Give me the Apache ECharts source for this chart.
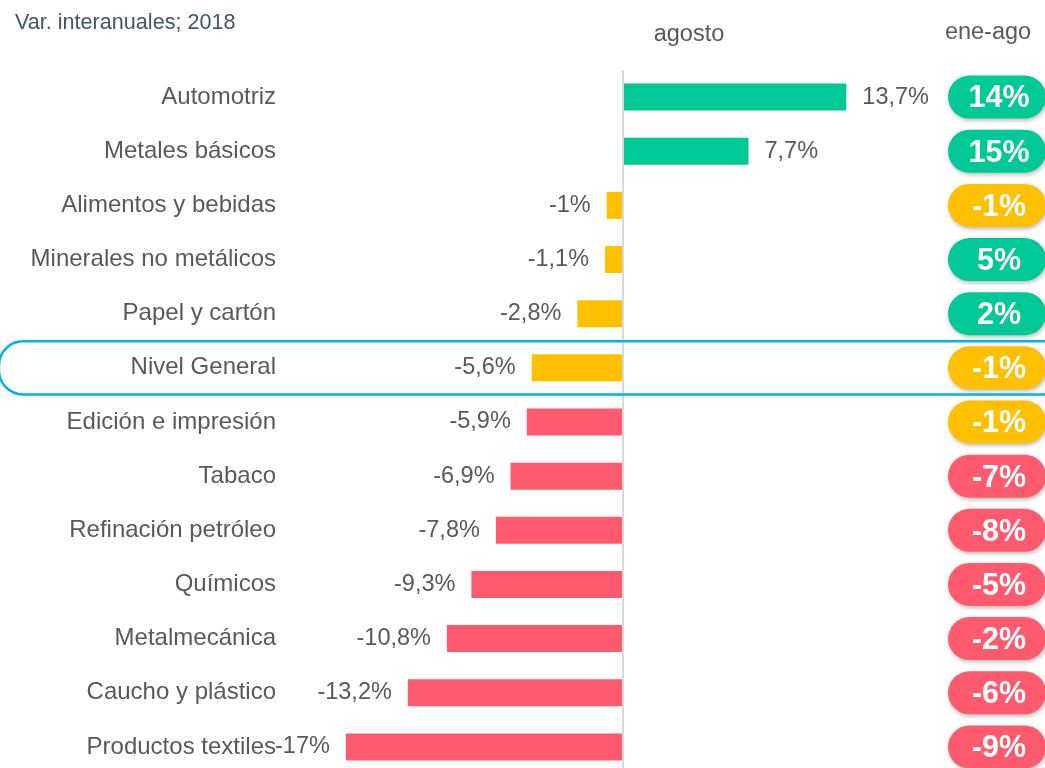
<!DOCTYPE html>
<html>
<head>
<meta charset="utf-8">
<script src="https://cdn.jsdelivr.net/npm/echarts@6/dist/echarts.min.js"></script>
<style>
html,body{margin:0;padding:0;background:#fff;}
#chart{width:1045px;height:768px;}
</style>
</head>
<body>
<div id="chart"></div>
<script>
const categories = ["Automotriz","Metales básicos","Alimentos y bebidas","Minerales no metálicos","Papel y cartón","Nivel General","Edición e impresión","Tabaco","Refinación petróleo","Químicos","Metalmecánica","Caucho y plástico","Productos textiles"];
const agosto = [13.7, 7.7, -1, -1.1, -2.8, -5.6, -5.9, -6.9, -7.8, -9.3, -10.8, -13.2, -17];
const eneAgo = [14, 15, -1, 5, 2, -1, -1, -7, -8, -5, -2, -6, -9];
const highlightCategory = "Nivel General";

const GREEN = '#00C896', YELLOW = '#FFC000', RED = '#FF5A6E';
const FONT = '"Liberation Sans", Arial, sans-serif';
const TXT = '#595959';

function barColor(v){ return v > 0 ? GREEN : (v > -5.75 ? YELLOW : RED); }
function pillColor(v){ return v > 0 ? GREEN : (v >= -1 ? YELLOW : RED); }
function fmt(v){ return String(v).replace('.', ',') + '%'; }

const chart = echarts.init(document.getElementById('chart'), null, {renderer:'canvas'});

const barData = agosto.map(v => ({
  value: v,
  itemStyle: {color: barColor(v)},
  label: {position: v >= 0 ? 'right' : 'left'}
}));
const pillData = categories.map((c, i) => ['ene-ago', c, eneAgo[i]]);

const headers = [
  {type: 'text', left: 15, top: 12,
   style: {text: 'Var. interanuales; 2018', fontSize: 21.6, fill: '#44546A', fontFamily: FONT}},
  {type: 'text', x: 689, y: 35,
   style: {text: 'agosto', fontSize: 23.5, fill: TXT, fontFamily: FONT, align: 'center', verticalAlign: 'middle'}},
  {type: 'text', x: 988, y: 33,
   style: {text: 'ene-ago', fontSize: 23.5, fill: TXT, fontFamily: FONT, align: 'center', verticalAlign: 'middle'}}
];

const option = {
  animation: false,
  backgroundColor: '#fff',
  grid: [
    {left: 297, width: 652, top: 70, height: 704, outerBoundsMode: 'none', containLabel: false},
    {left: 948, width: 98, top: 70, height: 704, outerBoundsMode: 'none', containLabel: false}
  ],
  xAxis: [
    {gridIndex: 0, type: 'value', min: -20, max: 20, show: false},
    {gridIndex: 1, type: 'category', data: ['ene-ago'], show: false}
  ],
  yAxis: [
    {gridIndex: 0, type: 'category', data: categories, inverse: true,
     axisLine: {show: false}, axisTick: {show: false}, splitLine: {show: false},
     axisLabel: {margin: 21, fontSize: 24, color: TXT, fontFamily: FONT, padding: [3, 0, 0, 0]}},
    {gridIndex: 1, type: 'category', data: categories, inverse: true, show: false}
  ],
  series: [
    {
      type: 'bar',
      xAxisIndex: 0, yAxisIndex: 0,
      data: barData,
      barWidth: 27,
      label: {show: true, distance: 16, fontSize: 23.5, color: TXT, fontFamily: FONT,
              padding: [3, 0, 0, 0], formatter: p => fmt(p.value)},
      markLine: {
        silent: true, symbol: 'none', label: {show: false},
        lineStyle: {color: '#D9D9D9', width: 2, type: 'solid'},
        data: [{xAxis: 0}]
      }
    },
    {
      type: 'custom',
      xAxisIndex: 1, yAxisIndex: 1,
      data: pillData,
      encode: {x: 0, y: 1},
      renderItem: function(params, api){
        const pt = api.coord([api.value(0), api.value(1)]);
        const v = pillData[params.dataIndex][2];
        return {
          type: 'group',
          children: [
            {type: 'rect',
             shape: {x: pt[0]-49, y: pt[1]-21.5, width: 98, height: 43, r: 21.5},
             style: {fill: pillColor(v), shadowBlur: 4, shadowOffsetX: 1, shadowOffsetY: 2, shadowColor: 'rgba(0,0,0,0.28)'}},
            {type: 'text',
             style: {text: fmt(v), x: pt[0]+2, y: pt[1]+2, align: 'center', verticalAlign: 'middle',
                      fill: '#fff', fontSize: 30.5, fontWeight: 'bold', fontFamily: FONT}}
          ]
        };
      }
    }
  ],
  graphic: headers
};
chart.setOption(option);

const cy = chart.convertToPixel({yAxisIndex: 0}, highlightCategory);
chart.setOption({
  graphic: headers.concat([
    {type: 'rect', silent: true, z: 10,
     shape: {x: -1, y: cy - 26.6, width: 1070, height: 53.2, r: 24},
     style: {fill: 'none', stroke: '#00B0F0', lineWidth: 2.5}}
  ])
}, {replaceMerge: ['graphic']});
</script>
</body>
</html>
